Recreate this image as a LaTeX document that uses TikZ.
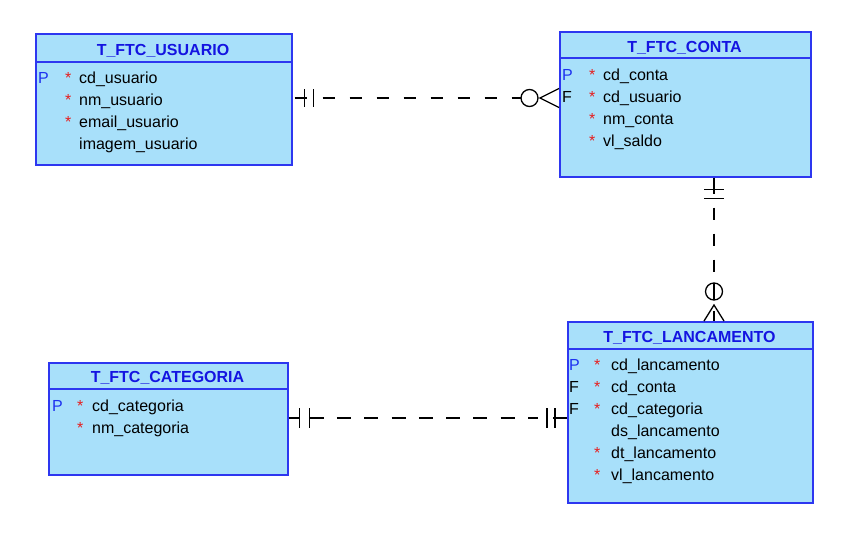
\documentclass[tikz,border=0pt]{standalone}
\usepackage{fontspec}
\setmainfont{Liberation Sans}

\definecolor{tblfill}{RGB}{168,224,250}
\definecolor{tbledge}{RGB}{45,55,240}
\definecolor{titleblue}{RGB}{20,20,225}
\definecolor{keyblue}{RGB}{30,50,240}
\definecolor{reqred}{RGB}{230,30,30}

\tikzset{
    tbl/.style={draw=tbledge, fill=tblfill, line width=1.6pt, anchor=north west, inner sep=0pt},
    hdr/.style={draw=tbledge, line width=1.6pt},
    tbltitle/.style={anchor=base, inner sep=0pt, text=titleblue, font=\fontsize{16}{18}\selectfont\bfseries},
    col/.style={anchor=base west, inner sep=0pt, font=\fontsize{16}{18}\selectfont},
    req/.style={col, text=reqred},
    pk/.style={col, text=keyblue},
    fk/.style={col, text=black},
    rel/.style={line width=1.3pt, black},
}

\begin{document}
\begin{tikzpicture}[x=1pt, y=-1pt]
    \useasboundingbox (0,0) rectangle (864,552);

    % Draw the tables
    \node[tbl, minimum width=256pt, minimum height=131pt] (usuario) at (35,33) {};
    \node[tbl, minimum width=251pt, minimum height=145pt] (conta) at (559,31) {};
    \node[tbl, minimum width=239pt, minimum height=112pt] (categoria) at (48,362) {};
    \node[tbl, minimum width=245pt, minimum height=181pt] (lancamento) at (567,321) {};

    % Draw the header lines
    \draw[hdr] (usuario.west |- 0,62) -- (usuario.east |- 0,62);
    \draw[hdr] (conta.west |- 0,58) -- (conta.east |- 0,58);
    \draw[hdr] (categoria.west |- 0,389) -- (categoria.east |- 0,389);
    \draw[hdr] (lancamento.west |- 0,349) -- (lancamento.east |- 0,349);

    % Table names
    \node[tbltitle] (usuario-t) at (163,55) {T\_FTC\_USUARIO};
    \node[tbltitle] (conta-t) at (684.5,52) {T\_FTC\_CONTA};
    \node[tbltitle] (categoria-t) at (167.5,382) {T\_FTC\_CATEGORIA};
    \node[tbltitle] (lancamento-t) at (689.5,342) {T\_FTC\_LANCAMENTO};

    % Columns of T_FTC_USUARIO
    \foreach \name [count=\i] in {cd\_usuario, nm\_usuario, email\_usuario, imagem\_usuario}
        \node[col] (usuario-\i) at (79,61+22*\i) {\name};
    \foreach \i in {1,2,3}
        \node[req] (usuario-r\i) at (65,61+22*\i) {*};
    \node[pk] (usuario-p) at (38,83) {P};

    % Columns of T_FTC_CONTA
    \foreach \name [count=\i] in {cd\_conta, cd\_usuario, nm\_conta, vl\_saldo}
        \node[col] (conta-\i) at (603,58+22*\i) {\name};
    \foreach \i in {1,...,4}
        \node[req] (conta-r\i) at (589,58+22*\i) {*};
    \node[pk] (conta-p) at (562,80) {P};
    \node[fk] (conta-f) at (562,102) {F};

    % Columns of T_FTC_CATEGORIA
    \foreach \name [count=\i] in {cd\_categoria, nm\_categoria}
        \node[col] (categoria-\i) at (92,389+22*\i) {\name};
    \foreach \i in {1,2}
        \node[req] (categoria-r\i) at (77,389+22*\i) {*};
    \node[pk] (categoria-p) at (52,411) {P};

    % Columns of T_FTC_LANCAMENTO
    \foreach \name [count=\i] in {cd\_lancamento, cd\_conta, cd\_categoria, ds\_lancamento, dt\_lancamento, vl\_lancamento}
        \node[col] (lancamento-\i) at (611,348+22*\i) {\name};
    \foreach \i in {1,2,3,5,6}
        \node[req] (lancamento-r\i) at (594,348+22*\i) {*};
    \node[pk] (lancamento-p) at (569,370) {P};
    \node[fk] (lancamento-f1) at (569,392) {F};
    \node[fk] (lancamento-f2) at (569,414) {F};

    % Relation usuario - conta
    \coordinate (uc-a) at (usuario.east |- 0,98);
    \coordinate (uc-b) at (conta.west |- 0,98);
    \draw[rel] ([xshift=2pt]uc-a) -- ([xshift=14pt]uc-a);
    \draw[rel] ([shift={(12,-9)}]uc-a) -- ([shift={(12,9)}]uc-a);
    \draw[rel] ([shift={(21,-9)}]uc-a) -- ([shift={(21,9)}]uc-a);
    \draw[rel, dash pattern=on 12.5pt off 14.5pt] ([xshift=30pt]uc-a) -- ([xshift=-38pt]uc-b);
    \draw[rel] ([xshift=-29.5pt]uc-b) circle (8.5pt);
    \draw[rel] ([shift={(0,-9.5)}]uc-b) -- ([xshift=-19pt]uc-b) -- ([shift={(0,9.5)}]uc-b);

    % Relation conta - lancamento
    \coordinate (cl-a) at (conta.south -| 714,0);
    \coordinate (cl-b) at (lancamento.north -| 714,0);
    \draw[rel] (cl-a) -- ([shift={(0,16)}]cl-a);
    \draw[rel] ([shift={(-10,12)}]cl-a) -- ([shift={(10,12)}]cl-a);
    \draw[rel] ([shift={(-10,21)}]cl-a) -- ([shift={(10,21)}]cl-a);
    \draw[rel, dash pattern=on 12.5pt off 13.5pt] ([shift={(0,30)}]cl-a) -- ([shift={(0,-38)}]cl-b);
    \draw[rel] ([shift={(0,-29.5)}]cl-b) circle (8.5pt);
    \draw[rel] ([shift={(0,-38)}]cl-b) -- ([shift={(0,-21)}]cl-b);
    \draw[rel] ([shift={(-10,0)}]cl-b) -- ([shift={(0,-16)}]cl-b) -- ([shift={(10,0)}]cl-b);
    \draw[rel] ([shift={(0,-10)}]cl-b) -- (cl-b);

    % Relation categoria - lancamento
    \coordinate (ct-a) at (categoria.east |- 0,418);
    \coordinate (ct-b) at (lancamento.west |- 0,418);
    \draw[rel] (ct-a) -- ([xshift=10pt]ct-a);
    \draw[rel] ([shift={(11,-10)}]ct-a) -- ([shift={(11,10)}]ct-a);
    \draw[rel] ([shift={(21,-10)}]ct-a) -- ([shift={(21,10)}]ct-a);
    \draw[rel, dash pattern=on 14pt off 13.3pt] ([xshift=21pt]ct-a) -- ([xshift=-29pt]ct-b);
    \draw[rel] ([shift={(-20,-10)}]ct-b) -- ([shift={(-20,10)}]ct-b);
    \draw[rel] ([shift={(-12,-10)}]ct-b) -- ([shift={(-12,10)}]ct-b);
    \draw[rel] ([xshift=-14pt]ct-b) -- (ct-b);
\end{tikzpicture}
\end{document}
